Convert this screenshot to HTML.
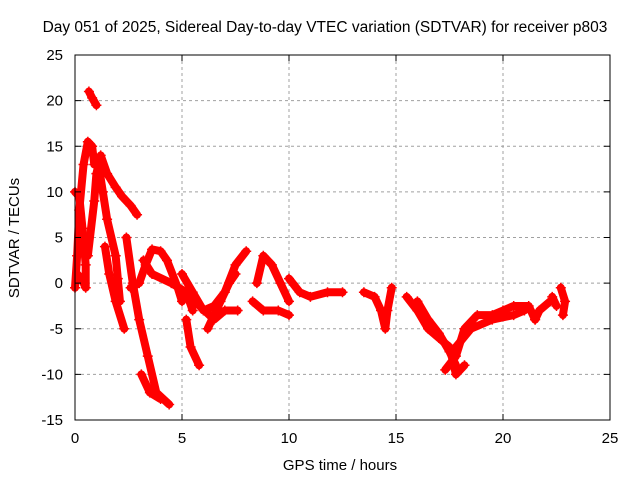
<!DOCTYPE html>
<html><head><meta charset="utf-8"><style>
body{margin:0;background:#fff;}
text{font-family:"Liberation Sans",sans-serif;fill:#000;}
</style></head><body>
<svg id="chart" width="640" height="480" viewBox="0 0 640 480" xmlns="http://www.w3.org/2000/svg">
<rect width="640" height="480" fill="#fff"/>
<text x="325" y="32" font-size="15.5" text-anchor="middle">Day 051 of 2025, Sidereal Day-to-day VTEC variation (SDTVAR) for receiver p803</text>
<g id="grid"></g>
<g id="marks"></g>
<g id="axes"></g>
<text x="340" y="470" font-size="15" text-anchor="middle">GPS time / hours</text>
<text transform="translate(19,238) rotate(-90)" font-size="15" text-anchor="middle">SDTVAR / TECUs</text>
</svg>
<script>
const xTicks=[0,5,10,15,20,25];
const yTicks=[25,20,15,10,5,0,-5,-10,-15];
const tracks=[
[[0.65,21],[0.8,20.3],[1.0,19.5]],
[[0.0,-0.5],[0.1,3],[0.2,8],[0.4,13],[0.6,15.5],[0.8,15],[0.9,13]],
[[0.0,10],[0.2,9.5],[0.35,6],[0.5,2],[0.5,-0.5],[0.3,0.5],[0.1,1]],
[[0.6,3],[0.9,9],[1.0,12],[1.2,14],[1.5,12],[1.9,10.5],[2.2,9.5],[2.6,8.5],[2.9,7.5]],
[[1.1,13],[1.3,10],[1.5,7],[1.9,3],[2.0,0.5],[2.1,-2]],
[[1.4,4],[1.6,1],[1.9,-2],[2.3,-5]],
[[2.4,5],[2.7,0],[3.0,-4],[3.4,-8],[3.8,-12],[4.4,-13.3]],
[[3.1,-10],[3.5,-12],[4.0,-12.7]],
[[2.6,-0.5],[3.0,0],[3.3,2],[3.6,3.7],[4.0,3.5],[4.3,2.5],[4.8,-0.5],[5.0,-2]],
[[3.2,2.5],[3.6,1],[4.5,0],[5.2,-1],[5.5,-3]],
[[5.2,-4],[5.4,-7],[5.8,-9]],
[[5.0,1],[5.5,-1],[6.0,-3],[6.5,-2.5],[7.0,-1],[7.5,2],[8.0,3.5]],
[[6.2,-5],[6.8,-2],[7.2,0],[7.5,1]],
[[5.6,-2],[6.5,-4],[7.0,-3],[7.6,-3]],
[[8.5,0],[8.8,3],[9.2,2],[9.6,0],[10.0,-2]],
[[8.3,-2],[8.8,-3],[9.5,-3],[10.0,-3.5]],
[[10.0,0.5],[10.5,-1],[11.0,-1.5],[11.8,-1],[12.5,-1]],
[[13.5,-1],[14.0,-1.5],[14.3,-3],[14.5,-5],[14.6,-3],[14.8,-0.5]],
[[15.5,-1.5],[16.0,-3],[16.5,-5],[17.0,-6],[17.5,-7],[17.8,-10],[18.2,-9]],
[[16.0,-2],[16.5,-4],[17.0,-5.5],[17.5,-7.5],[17.8,-9]],
[[17.3,-9.5],[17.8,-8],[18.2,-5],[18.8,-3.5],[19.5,-3.5],[20.0,-3],[20.5,-2.5],[21.2,-2.5],[21.5,-4]],
[[17.8,-7],[18.5,-5],[19.5,-4],[20.5,-3.5],[21.0,-3]],
[[21.5,-4],[21.7,-3],[22.2,-2]],
[[22.3,-1.5],[22.5,-2.5]],
[[22.7,-0.5],[22.9,-2],[22.8,-3.5]]
];
const X0=75,X1=610,Y0=420,Y1=55;
const sx=v=>X0+(v-0)/(25-0)*(X1-X0);
const sy=v=>Y0-(v+15)/(25+15)*(Y0-Y1);
const NS="http://www.w3.org/2000/svg";
const g=document.getElementById('grid'),m=document.getElementById('marks'),a=document.getElementById('axes');
function mk(t,at,p){const e=document.createElementNS(NS,t);for(const k in at)e.setAttribute(k,at[k]);p.appendChild(e);return e;}
xTicks.forEach(t=>{
 if(t>0&&t<25){const l=mk('line',{x1:sx(t),x2:sx(t),y1:Y1,y2:Y0,stroke:'#a0a0a0','stroke-dasharray':'3,3'},g);
 
 }
 const tx=mk('text',{x:sx(t),y:Y0+23,'font-size':15,'text-anchor':'middle'},a);tx.textContent=t;
 
 
 mk('line',{x1:sx(t),x2:sx(t),y1:Y0,y2:Y0-6,stroke:'#000'},a);mk('line',{x1:sx(t),x2:sx(t),y1:Y1,y2:Y1+6,stroke:'#000'},a);
});
yTicks.forEach(t=>{
 if(t>-15&&t<25){const l=mk('line',{x1:X0,x2:X1,y1:sy(t),y2:sy(t),stroke:'#a0a0a0','stroke-dasharray':'3,3'},g);
 
 }
 const tx=mk('text',{x:X0-12,y:sy(t)+5,'font-size':15,'text-anchor':'end'},a);tx.textContent=t;
 
 
 mk('line',{x1:X0,x2:X0+6,y1:sy(t),y2:sy(t),stroke:'#000'},a);mk('line',{x1:X1,x2:X1-6,y1:sy(t),y2:sy(t),stroke:'#000'},a);
});
const fr=mk('rect',{x:X0,y:Y1,width:X1-X0,height:Y0-Y1,fill:'none',stroke:'#000'},a);


tracks.forEach(tr=>{
 const p=mk('polyline',{points:tr.map(d=>sx(d[0])+','+sy(d[1])).join(' '),fill:'none',stroke:'#f00','stroke-width':8,'stroke-linejoin':'round','stroke-linecap':'round'},m);
 
 
 tr.forEach(d=>{const x=sx(d[0]),y=sy(d[1]);
  const pt=mk('path',{d:`M${x-5},${y}H${x+5}M${x},${y-5}V${y+5}`,stroke:'#f00','stroke-width':1.5},m);
  
  
 });
});
</script>
</body></html>
